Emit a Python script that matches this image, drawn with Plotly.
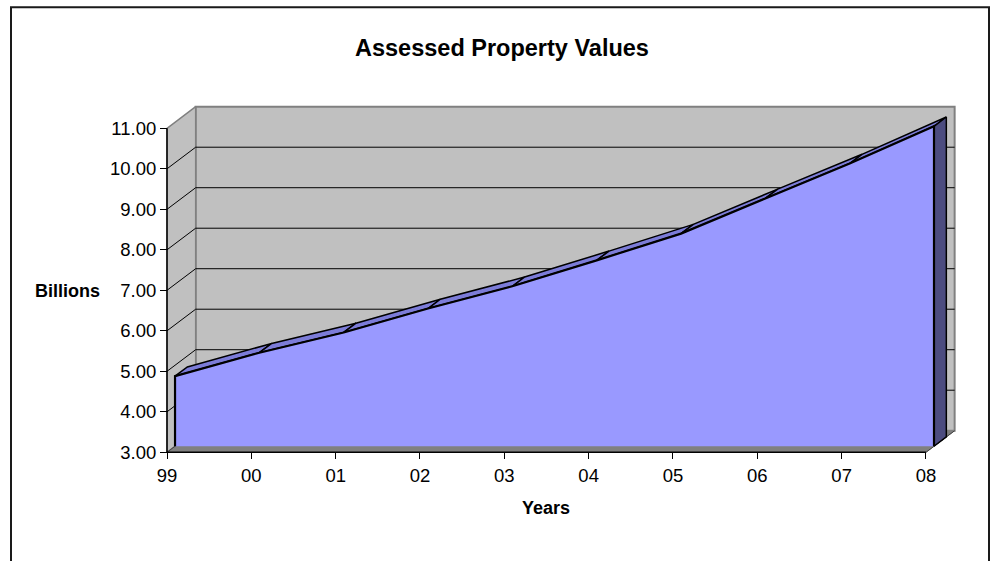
import plotly.graph_objects as go

# ---------------- data ----------------
years = ["99", "00", "01", "02", "03", "04", "05", "06", "07", "08"]
values = [4.73, 5.31, 5.81, 6.40, 6.95, 7.59, 8.25, 9.12, 9.98, 10.90]
y_ticks = [3, 4, 5, 6, 7, 8, 9, 10, 11]
y_tick_labels = [f"{v:.2f}" for v in y_ticks]
title_text = "Assessed Property Values"
x_title = "Years"
y_title = "Billions"

# ---------------- style / layout constants ----------------
W, H = 995, 561
FONT = "Liberation Sans, Arial, sans-serif"
ORIGIN_X, ORIGIN_Y = 167.0, 452.3      # pixel position of the front axes corner
PX_PER_CAT, PX_PER_UNIT = 84.33, 40.5  # axis scales
DEPTH_X, DEPTH_Y = 0.34, 0.533         # depth of the 3-D box, in axis units
F_FRONT, F_BACK = 0.28, 0.71           # depth fraction of the area's faces
PAD = 6.0

WALL = "#c0c0c0"
WALL_EDGE = "#808080"
FLOOR = "#808080"
FRONT = "#9999ff"
TOP = "#7c7cd8"
SIDE = "#4c4c80"

n = len(years)
xs = list(range(n))
y_min, y_max = y_ticks[0], y_ticks[-1]
x_last = n - 1

x_lo = -PAD / PX_PER_CAT
x_hi = x_last + DEPTH_X + PAD / PX_PER_CAT
y_lo = y_min - PAD / PX_PER_UNIT
y_hi = y_max + DEPTH_Y + PAD / PX_PER_UNIT

px_left = ORIGIN_X + x_lo * PX_PER_CAT
px_right = ORIGIN_X + x_hi * PX_PER_CAT
px_bottom = ORIGIN_Y - (y_lo - y_min) * PX_PER_UNIT
px_top = ORIGIN_Y - (y_hi - y_min) * PX_PER_UNIT


def depth(x, y, f):
    return x + f * DEPTH_X, y + f * DEPTH_Y


def poly(points, fill, line_color, line_width):
    px = [p[0] for p in points] + [points[0][0]]
    py = [p[1] for p in points] + [points[0][1]]
    return go.Scatter(x=px, y=py, mode="lines", fill="toself", fillcolor=fill,
                      line=dict(color=line_color, width=line_width),
                      hoverinfo="skip", showlegend=False)


def path(points, color, width):
    px, py = [], []
    for seg in points:
        for p in seg:
            px.append(p[0]); py.append(p[1])
        px.append(None); py.append(None)
    return go.Scatter(x=px, y=py, mode="lines", line=dict(color=color, width=width),
                      hoverinfo="skip", showlegend=False)


fig = go.Figure()

# back wall
fig.add_trace(poly([depth(0, y_min, 1), depth(x_last, y_min, 1),
                    depth(x_last, y_max, 1), depth(0, y_max, 1)], WALL, WALL_EDGE, 2))
# side wall
fig.add_trace(poly([(0, y_min), (0, y_max), depth(0, y_max, 1), depth(0, y_min, 1)],
                   WALL, WALL_EDGE, 1.5))
# floor
fig.add_trace(poly([(0, y_min), (x_last, y_min), depth(x_last, y_min, 1), depth(0, y_min, 1)],
                   FLOOR, FLOOR, 1))
# gridlines on back and side walls
grid = []
for yv in y_ticks[1:-1]:
    grid.append([(0, yv), depth(0, yv, 1), depth(x_last, yv, 1)])
fig.add_trace(path(grid, "#000000", 1))
# floor edges
fig.add_trace(path([[(x_last, y_min), depth(x_last, y_min, 1)],
                    [(0, y_min), depth(0, y_min, 1)]], "#404040", 1))
# front axis lines
fig.add_trace(path([[(0, y_max), (0, y_min), (x_last, y_min)]], "#000000", 1.5))

# area: top face strips
for i in range(n - 1):
    fig.add_trace(poly([depth(xs[i], values[i], F_FRONT), depth(xs[i + 1], values[i + 1], F_FRONT),
                        depth(xs[i + 1], values[i + 1], F_BACK), depth(xs[i], values[i], F_BACK)],
                       TOP, "#000000", 1.5))
# area: right side face
fig.add_trace(poly([depth(xs[-1], y_min, F_FRONT), depth(xs[-1], values[-1], F_FRONT),
                    depth(xs[-1], values[-1], F_BACK), depth(xs[-1], y_min, F_BACK)],
                   SIDE, "#000000", 1.5))
# area: front face
front_pts = [depth(xs[0], y_min, F_FRONT)] + [depth(x, v, F_FRONT) for x, v in zip(xs, values)] \
    + [depth(xs[-1], y_min, F_FRONT)]
fig.add_trace(go.Scatter(x=[p[0] for p in front_pts], y=[p[1] for p in front_pts],
                         mode="lines", fill="toself", fillcolor=FRONT,
                         line=dict(color="rgba(0,0,0,0)", width=0),
                         hoverinfo="skip", showlegend=False))
fig.add_trace(path([front_pts], "#000000", 2.2))

fig.update_layout(
    width=W, height=H,
    margin=dict(l=0, r=0, t=0, b=0, pad=0),
    paper_bgcolor="white", plot_bgcolor="rgba(0,0,0,0)",
    showlegend=False,
    font=dict(family=FONT, color="#000000", size=18),
    xaxis=dict(range=[x_lo, x_hi], domain=[px_left / W, px_right / W],
               anchor="free", position=1 - ORIGIN_Y / H,
               tickmode="array", tickvals=xs, ticktext=years,
               ticks="outside", ticklen=6, tickwidth=1, tickcolor="#000000",
               showgrid=False, zeroline=False, showline=False, automargin=False,
               tickfont=dict(size=18.5, family=FONT, color="#000000")),
    yaxis=dict(range=[y_lo, y_hi], domain=[1 - px_bottom / H, 1 - px_top / H],
               anchor="free", position=ORIGIN_X / W,
               tickmode="array", tickvals=y_ticks, ticktext=y_tick_labels,
               ticks="outside", ticklen=7, tickwidth=1, tickcolor="#000000",
               showgrid=False, zeroline=False, showline=False, automargin=False,
               tickfont=dict(size=18.5, family=FONT, color="#000000")),
    annotations=[
        dict(text=f"<b>{title_text}</b>", x=501.5 / W, y=1 - 48 / H, xref="paper", yref="paper",
             showarrow=False, xanchor="center", yanchor="middle", font=dict(size=23.5, family=FONT)),
        dict(text=f"<b>{y_title}</b>", x=67 / W, y=1 - 291 / H, xref="paper", yref="paper",
             showarrow=False, xanchor="center", yanchor="middle", font=dict(size=18, family=FONT)),
        dict(text=f"<b>{x_title}</b>", x=546 / W, y=1 - 508 / H, xref="paper", yref="paper",
             showarrow=False, xanchor="center", yanchor="middle", font=dict(size=18, family=FONT)),
    ],
    shapes=[
        dict(type="rect", xref="paper", yref="paper", x0=11 / W, x1=989 / W,
             y0=-0.05, y1=1 - 7.3 / H, line=dict(color="#1a1a1a", width=2),
             fillcolor="rgba(0,0,0,0)", layer="below"),
    ],
)

fig.write_html("out.html", config={"displayModeBar": False},
               post_script="document.body.style.margin='0';document.body.style.overflow='hidden';")
